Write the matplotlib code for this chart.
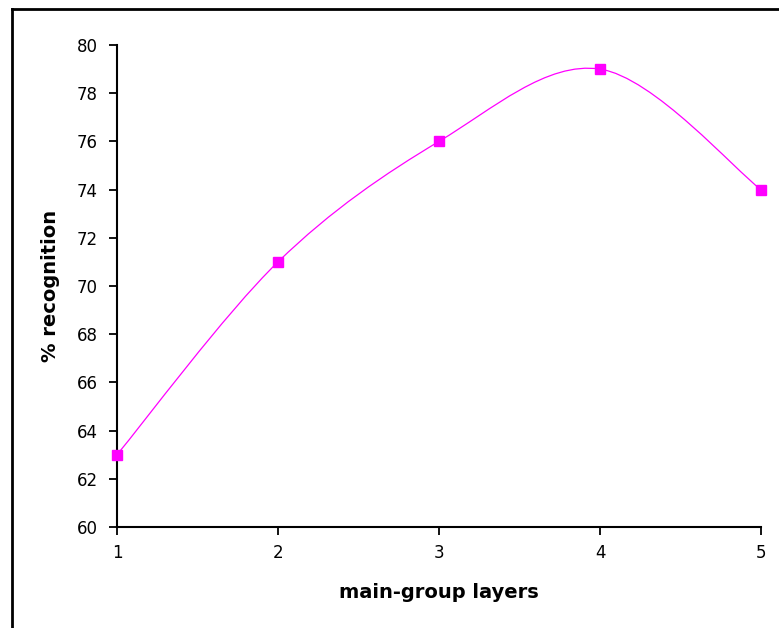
import numpy as np
import matplotlib.pyplot as plt
from matplotlib.path import Path
from matplotlib.patches import PathPatch
from matplotlib.lines import Line2D

# data
layers = [1, 2, 3, 4, 5]
recognition = [63, 71, 76, 79, 74]
y_ticks = list(range(60, 81, 2))

fig = plt.figure(figsize=(7.79, 6.28), dpi=100)
ax = fig.add_axes([117 / 779, 1 - 527 / 628, (761 - 117) / 779, (527 - 45) / 628])

# Excel-style smoothed line: cubic Bezier through the points
x = np.array(layers, dtype=float)
y = np.array(recognition, dtype=float)
n = len(x)
verts = [(x[0], y[0])]
codes = [Path.MOVETO]
for i in range(n - 1):
    x0, y0 = (x[i - 1], y[i - 1]) if i > 0 else (x[i], y[i])
    x3, y3 = (x[i + 2], y[i + 2]) if i + 2 < n else (x[i + 1], y[i + 1])
    c1 = (x[i] + (x[i + 1] - x0) / 6, y[i] + (y[i + 1] - y0) / 6)
    c2 = (x[i + 1] - (x3 - x[i]) / 6, y[i + 1] - (y3 - y[i]) / 6)
    verts += [c1, c2, (x[i + 1], y[i + 1])]
    codes += [Path.CURVE4] * 3
ax.add_patch(PathPatch(Path(verts, codes), facecolor='none', edgecolor='#ff00ff', lw=0.9, clip_on=False))
ax.plot(layers, recognition, ls='none', marker='s', ms=7, color='#ff00ff', clip_on=False, zorder=3)

ax.set_xlim(1, 5)
ax.set_ylim(60, 80)
ax.set_xticks(layers)
ax.set_yticks(y_ticks)
for s in ['top', 'right']:
    ax.spines[s].set_visible(False)
for s in ['left', 'bottom']:
    ax.spines[s].set_linewidth(1.5)
ax.tick_params(axis='both', direction='out', width=1.3, length=6, labelsize=12, pad=8)
ax.tick_params(axis='x', pad=6)
ax.set_xlabel('main-group layers', fontsize=14, fontweight='bold', labelpad=15)
ax.set_ylabel('% recognition', fontsize=14, fontweight='bold', labelpad=12)

# chart frame, cut off at right and bottom
fig.add_artist(Line2D([11.5 / 779, 11.5 / 779], [0, 1 - 9 / 628], transform=fig.transFigure, color='black', lw=2))
fig.add_artist(Line2D([11.5 / 779, 1], [1 - 9 / 628, 1 - 9 / 628], transform=fig.transFigure, color='black', lw=2))

fig.savefig('out.png', dpi=100)
